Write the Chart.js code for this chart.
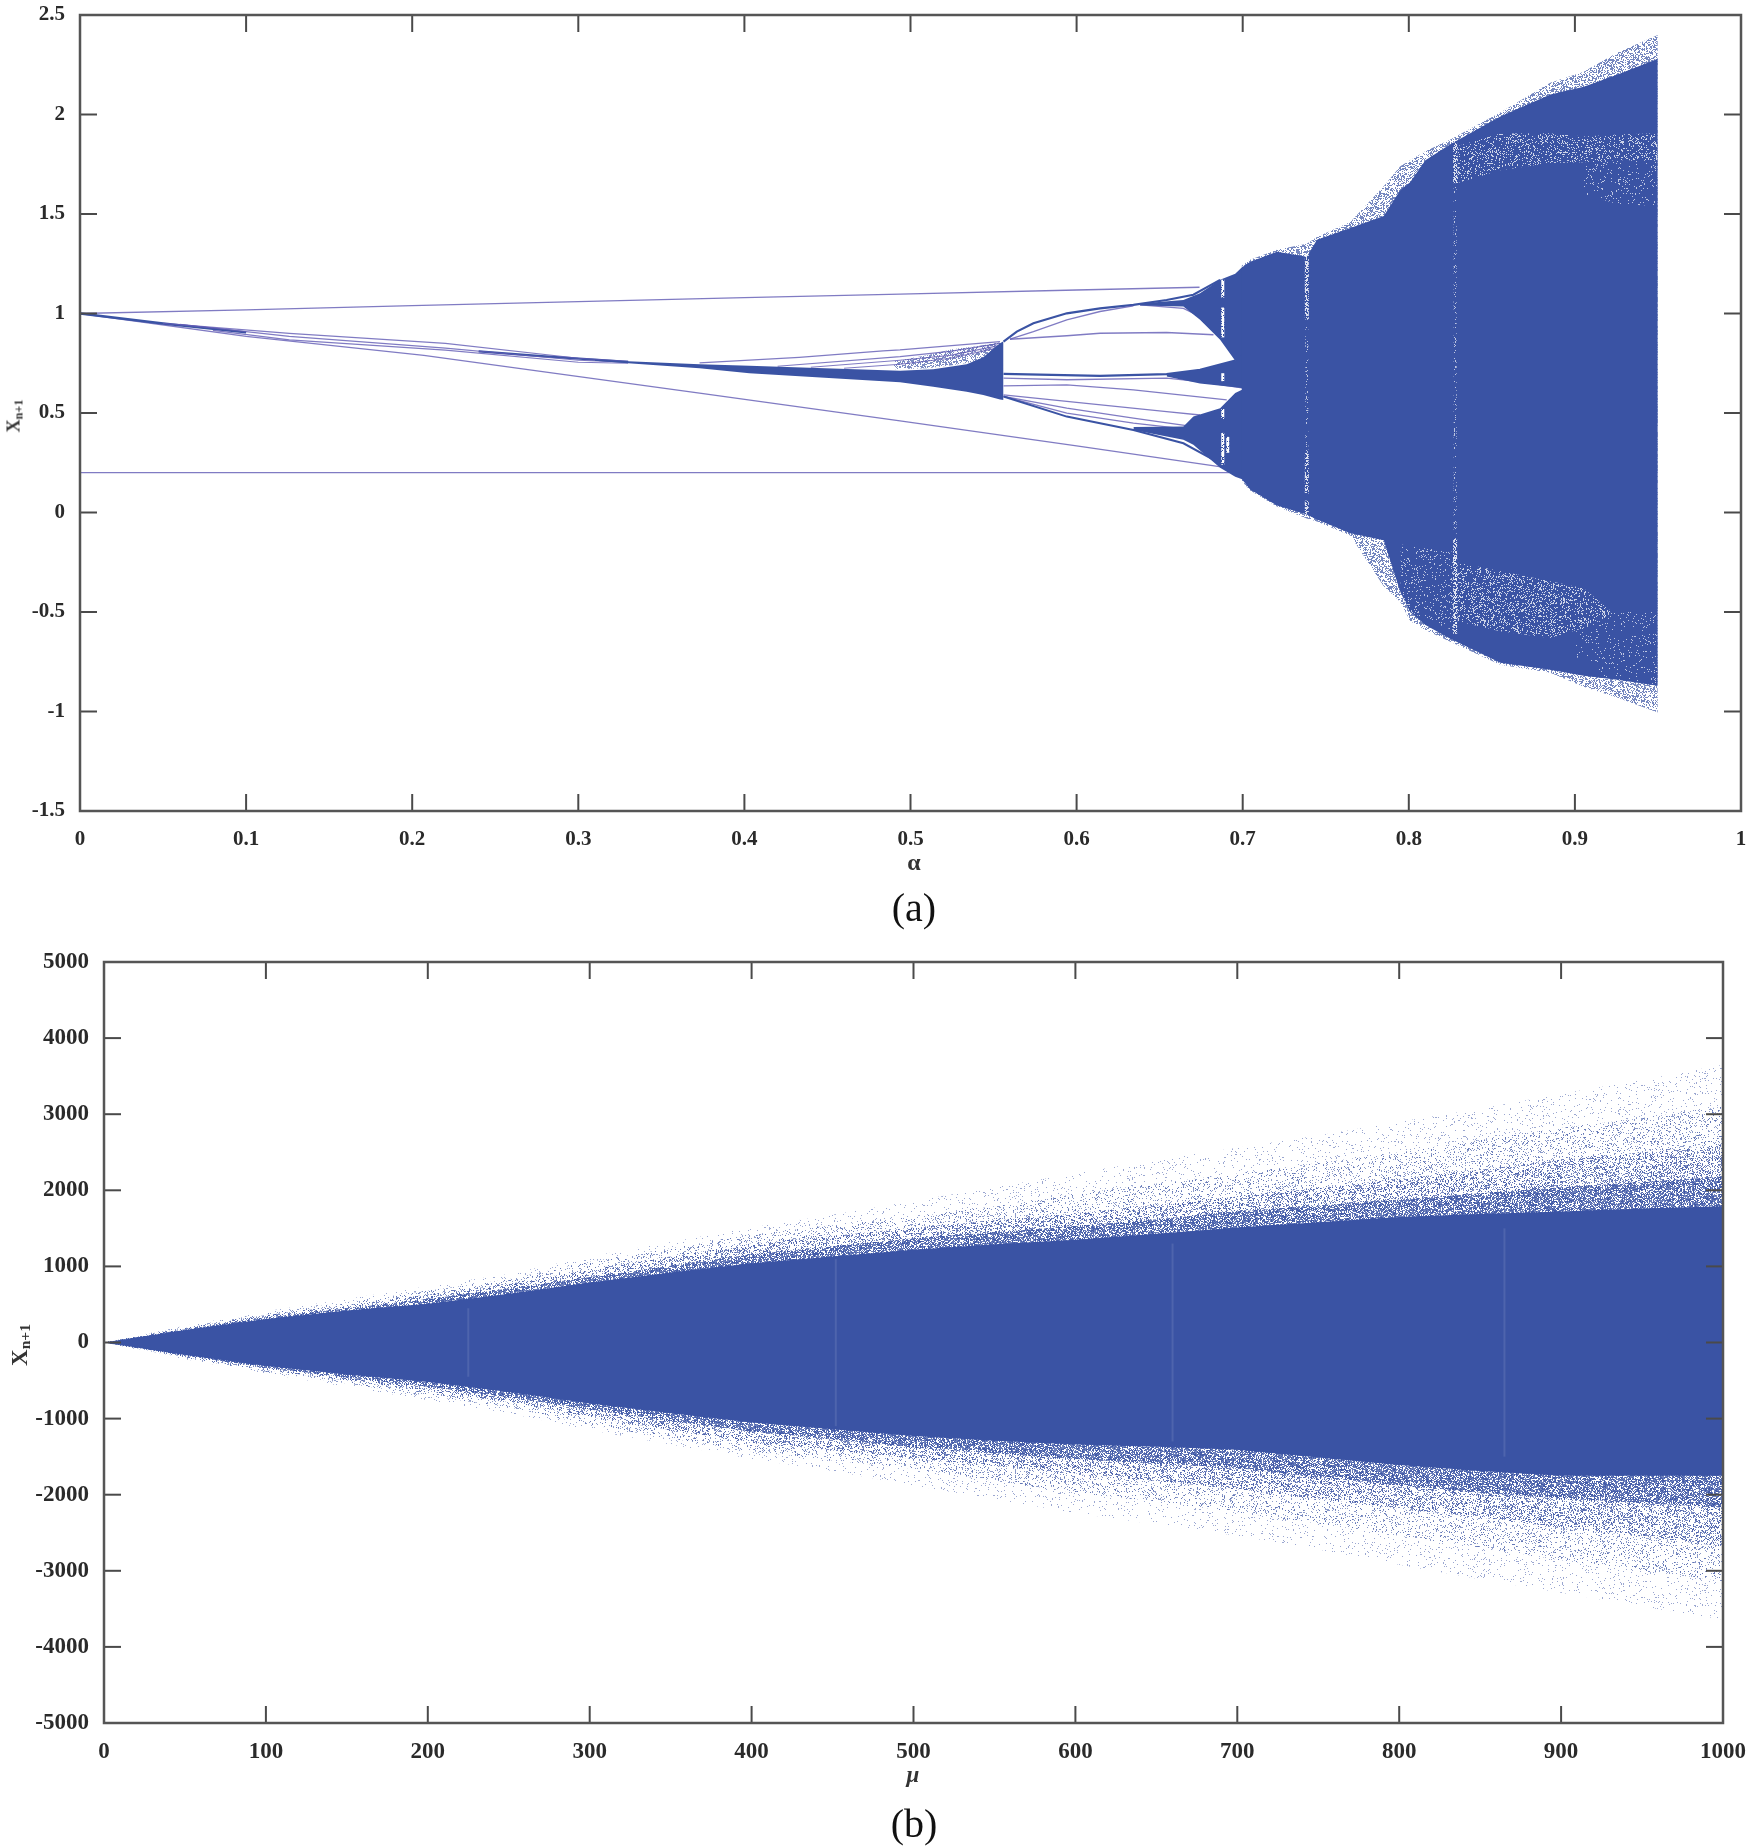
<!DOCTYPE html>
<html>
<head>
<meta charset="utf-8">
<title>Bifurcation diagrams</title>
<script src="https://cdn.jsdelivr.net/npm/chart.js@4/dist/chart.umd.min.js"></script>
<style>
  html, body { margin: 0; padding: 0; background: #fff; }
  #page { position: relative; width: 1750px; height: 1848px; overflow: hidden; font-family: "Liberation Serif", serif; color: #222; }
  canvas { position: absolute; left: 0; }
  .txt { position: absolute; transform: translate(-50%, -50%); white-space: nowrap; }
  .bold { font-weight: bold; color: #333; }
  .rot { transform: translate(-50%, -50%) rotate(-90deg); }
  sub { font-size: 68%; line-height: 0; vertical-align: -0.22em; }
</style>
</head>
<body>
<div id="page">
  <canvas id="chartA" width="1750" height="880" style="top:0"></canvas>
  <canvas id="chartB" width="1750" height="850" style="top:930px"></canvas>
  <div class="txt bold rot" style="left:14px;top:416px;font-size:18px">X<sub>n+1</sub></div>
  <div class="txt bold" style="left:914px;top:862px;font-size:24px">&alpha;</div>
  <div class="txt" style="left:914px;top:907px;font-size:40px;color:#111">(a)</div>
  <div class="txt bold rot" style="left:20px;top:1345px;font-size:23px">X<sub>n+1</sub></div>
  <div class="txt bold" style="left:913px;top:1775px;font-size:23px;font-style:italic">&mu;</div>
  <div class="txt" style="left:914px;top:1823px;font-size:40px;color:#111">(b)</div>
</div>
<script>
// ---- panel (a), values ----
var aTicksX = [0, 0.1, 0.2, 0.3, 0.4, 0.5, 0.6, 0.7, 0.8, 0.9, 1];
var aTicksY = [-1.5, -1, -0.5, 0, 0.5, 1, 1.5, 2, 2.5];

// single thin branches
var topLineX = [0, 0.1, 0.2, 0.3, 0.4, 0.4937, 0.6, 0.674];
var topLineY = [1, 1.018, 1.04, 1.06, 1.08, 1.097, 1.118, 1.132];
var flatLineX = [0, 0.692];
var flatLineY = [0.2, 0.2];
var diagLineX = [0, 0.1, 0.207, 0.373, 0.4937, 0.6, 0.686, 0.695];
var diagLineY = [1, 0.885, 0.79, 0.6, 0.46, 0.335, 0.23, 0.215];

// the bundle left of the big wedge
var trunkX = [0, 0.05, 0.1];
var trunkY = [1, 0.95, 0.905];
var trunk2X = [0.24, 0.28, 0.33];
var trunk2Y = [0.81, 0.785, 0.757];
var split1X = [0.05, 0.126, 0.22, 0.3, 0.33];
var split1Y = [0.95, 0.9, 0.85, 0.775, 0.76];
var split2X = [0.06, 0.126, 0.22, 0.3, 0.33];
var split2Y = [0.945, 0.885, 0.826, 0.765, 0.755];
var split3X = [0.08, 0.126, 0.22, 0.3, 0.33];
var split3Y = [0.915, 0.867, 0.816, 0.755, 0.75];
var fan1X = [0.373, 0.433, 0.4835, 0.4937, 0.5539];
var fan1Y = [0.752, 0.78, 0.812, 0.817, 0.859];
var fan2X = [0.42, 0.4937, 0.5238, 0.5539];
var fan2Y = [0.735, 0.783, 0.81, 0.85];
var fan3X = [0.44, 0.4937, 0.5238, 0.5539];
var fan3Y = [0.73, 0.765, 0.79, 0.84];
var fan4X = [0.46, 0.4937, 0.5238, 0.5539];
var fan4Y = [0.725, 0.745, 0.775, 0.83];
var wedgeX = [0.31, 0.33, 0.373, 0.403, 0.4937, 0.5137, 0.5338, 0.5438, 0.5539, 0.556];
var wedgeTop = [0.768, 0.76, 0.745, 0.738, 0.712, 0.72, 0.745, 0.78, 0.85, 0.86];
var wedgeBot = [0.762, 0.75, 0.725, 0.7, 0.655, 0.632, 0.607, 0.59, 0.568, 0.565];
var moireX = [0.49, 0.51, 0.525, 0.54, 0.5539];
var moireTop = [0.76, 0.79, 0.82, 0.835, 0.855];
var moireBot = [0.72, 0.725, 0.74, 0.76, 0.78];

// branches between the wedge and the chaotic part
var arcMainX = [0.556, 0.564, 0.574, 0.5941, 0.6141, 0.6342, 0.6542, 0.6703, 0.6864];
var arcMainY = [0.859, 0.909, 0.951, 1.001, 1.026, 1.043, 1.068, 1.094, 1.169];
var arcInnerX = [0.5599, 0.574, 0.5941, 0.6141, 0.6342];
var arcInnerY = [0.871, 0.909, 0.968, 1.01, 1.038];
var flatUpX = [0.5599, 0.5941, 0.6141, 0.6542, 0.6824];
var flatUpY = [0.871, 0.888, 0.901, 0.904, 0.893];
var arcFallX = [0.6382, 0.6643, 0.6743];
var arcFallY = [1.043, 1.026, 0.985];
var mid1X = [0.556, 0.6141, 0.6542, 0.6743, 0.6955];
var mid1Y = [0.697, 0.687, 0.695, 0.717, 0.763];
var mid2X = [0.556, 0.5941, 0.6542, 0.6743, 0.7005];
var mid2Y = [0.675, 0.667, 0.675, 0.658, 0.625];
var mid3X = [0.556, 0.5941, 0.6342, 0.6904];
var mid3Y = [0.636, 0.641, 0.616, 0.566];
var low1X = [0.556, 0.5941, 0.6542, 0.6743];
var low1Y = [0.591, 0.558, 0.507, 0.49];
var low2X = [0.556, 0.5941, 0.6342, 0.6703];
var low2Y = [0.583, 0.524, 0.474, 0.432];
var low3X = [0.556, 0.5941, 0.6342, 0.6703];
var low3Y = [0.583, 0.499, 0.449, 0.415];
var low4X = [0.556, 0.5941, 0.6342, 0.6643, 0.69];
var low4Y = [0.583, 0.482, 0.415, 0.348, 0.231];

// the three wedges just before the cloud
var upWedgeX = [0.6382, 0.6643, 0.6743, 0.6864, 0.6955, 0.7005];
var upWedgeTop = [1.05, 1.068, 1.102, 1.169, 1.2, 1.24];
var upWedgeBot = [1.04, 1.035, 0.968, 0.868, 0.763, 0.63];
var midWedgeX = [0.6542, 0.6743, 0.6955, 0.7005];
var midWedgeTop = [0.695, 0.717, 0.763, 0.8];
var midWedgeBot = [0.683, 0.648, 0.63, 0.625];
var lowWedgeX = [0.6342, 0.6643, 0.6703, 0.6864, 0.6955, 0.7005];
var lowWedgeTop = [0.43, 0.432, 0.482, 0.524, 0.6, 0.62];
var lowWedgeBot = [0.415, 0.365, 0.34, 0.225, 0.18, 0.165];

// dense cloud on the right, solid part and grainy rim
var cloudX = [0.6993, 0.7045, 0.7206, 0.7386, 0.7447, 0.7648, 0.7849, 0.7949, 0.8008, 0.81, 0.825, 0.8551, 0.8852, 0.9053, 0.9254, 0.9499];
var cloudTop = [1.23, 1.26, 1.31, 1.285, 1.37, 1.43, 1.49, 1.62, 1.66, 1.77, 1.85, 1.99, 2.1, 2.14, 2.2, 2.28];
var rimTop = [1.24, 1.27, 1.32, 1.35, 1.385, 1.46, 1.64, 1.74, 1.77, 1.815, 1.875, 2.01, 2.16, 2.215, 2.31, 2.4];
var cloudBot = [0.17, 0.116, 0.035, -0.01, -0.035, -0.104, -0.14, -0.4, -0.5, -0.565, -0.635, -0.755, -0.79, -0.82, -0.84, -0.87];
var rimBot = [0.16, 0.11, 0.03, -0.03, -0.045, -0.115, -0.37, -0.45, -0.545, -0.59, -0.65, -0.765, -0.805, -0.875, -0.93, -1.005];

// paler patches inside the cloud
var paleLowX = [0.8289, 0.855, 0.8851, 0.9052, 0.9213];
var paleLowTop = [-0.251, -0.294, -0.346, -0.381, -0.493];
var paleLowBot = [-0.545, -0.597, -0.631, -0.58, -0.51];
var paleLeftX = [0.795, 0.8, 0.8289];
var paleLeftTop = [-0.16, -0.17, -0.2];
var paleLeftBot = [-0.42, -0.5, -0.6];
var paleEdgeX = [0.9, 0.9213, 0.9499];
var paleEdgeTop = [-0.6, -0.5, -0.5];
var paleEdgeBot = [-0.72, -0.85, -0.9];
var paleHighX = [0.8289, 0.855, 0.885, 0.9053, 0.9254, 0.9499];
var paleHighTop = [1.84, 1.905, 1.906, 1.889, 1.9, 1.906];
var paleHighBot = [1.655, 1.72, 1.756, 1.76, 1.77, 1.77];
var paleSideX = [0.905, 0.9254, 0.9499];
var paleSideTop = [1.77, 1.77, 1.77];
var paleSideBot = [1.6, 1.55, 1.54];

// pale vertical windows: [alpha, from, to]
var aWindowsBright = [[0.7386, 0.97, 1.3], [0.7386, 0.095, 0.3], [0.7386, -0.01, 0.06], [0.8279, 1.655, 1.86], [0.8279, -0.61, -0.13]];
var aWindowsFaint = [[0.8279, -0.13, 1.655], [0.7386, 0.3, 0.97]];
// white gaps at the start of the chaos: [alpha, from, to]
var aGaps = [
  [0.688, 1.08, 1.17], [0.688, 0.88, 1.03], [0.688, 0.66, 0.7],
  [0.688, 0.47, 0.52], [0.688, 0.24, 0.4], [0.691, 0.3, 0.38]
];

// ---- panel (b), values ----
var bTicksX = [0, 100, 200, 300, 400, 500, 600, 700, 800, 900, 1000];
var bTicksY = [-5000, -4000, -3000, -2000, -1000, 0, 1000, 2000, 3000, 4000, 5000];
var mu = [0, 50, 100, 150, 200, 250, 300, 350, 400, 450, 500, 550, 600, 650, 700, 750, 800, 850, 900, 950, 1000];
var coreTop   = [0, 165, 310, 420, 510, 640, 790, 920, 1040, 1130, 1220, 1290, 1350, 1430, 1510, 1580, 1650, 1690, 1720, 1760, 1790];
var denseTop  = [0, 175, 330, 450, 570, 710, 860, 1010, 1160, 1260, 1370, 1450, 1530, 1620, 1720, 1800, 1880, 1960, 2040, 2110, 2180];
var midTop    = [0, 190, 360, 490, 630, 770, 960, 1130, 1300, 1400, 1510, 1600, 1700, 1810, 1920, 2030, 2150, 2270, 2400, 2500, 2600];
var sparseTop = [0, 205, 385, 530, 680, 830, 1060, 1240, 1420, 1540, 1650, 1790, 1950, 2090, 2220, 2360, 2500, 2660, 2820, 2950, 3100];
var faintTop  = [0, 220, 410, 570, 740, 900, 1130, 1320, 1510, 1680, 1860, 2040, 2220, 2400, 2560, 2720, 2900, 3070, 3270, 3450, 3650];
var coreBot   = [0, -165, -310, -420, -520, -650, -800, -930, -1050, -1140, -1230, -1290, -1340, -1370, -1410, -1510, -1610, -1690, -1750, -1750, -1750];
var denseBot  = [0, -175, -330, -460, -580, -720, -880, -1030, -1170, -1270, -1380, -1460, -1530, -1590, -1650, -1770, -1880, -1970, -2050, -2110, -2170];
var midBot    = [0, -190, -360, -500, -640, -780, -980, -1150, -1310, -1420, -1530, -1620, -1720, -1820, -1930, -2050, -2180, -2300, -2430, -2550, -2680];
var sparseBot = [0, -205, -385, -540, -700, -850, -1080, -1260, -1430, -1550, -1660, -1820, -1970, -2090, -2230, -2380, -2540, -2690, -2860, -3000, -3130];
var faintBot  = [0, -220, -410, -580, -760, -930, -1150, -1340, -1530, -1690, -1880, -2060, -2240, -2390, -2540, -2720, -2920, -3110, -3290, -3470, -3640];
// faint vertical streaks: [mu, from, to]
var bStreaks = [[452, -1100, 1100], [660, -1300, 1300], [865, -1500, 1500], [225, -450, 450]];

var BLUE = '#3a53a4';
var THIN = 'rgba(96,90,180,0.8)';

// grain texture for the stippled parts, built from a fixed hash of the pixel position.
// it only shades a band, all the band edges come from the arrays above
function stipple(level, rgb, alpha) {
  var size = 256, cv = document.createElement('canvas');
  cv.width = size; cv.height = size;
  var c = cv.getContext('2d'), img = c.createImageData(size, size);
  for (var y = 0; y < size; y++) {
    for (var x = 0; x < size; x++) {
      var h = (Math.imul(x, 73856093) ^ Math.imul(y, 19349663)) >>> 0;
      h = Math.imul(h ^ (h >>> 13), 1274126177);
      h = (h ^ (h >>> 16)) >>> 0;
      var k = (y * size + x) * 4;
      img.data[k] = rgb[0]; img.data[k + 1] = rgb[1]; img.data[k + 2] = rgb[2];
      img.data[k + 3] = h / 4294967296 < level ? alpha : 0;
    }
  }
  c.putImageData(img, 0, 0);
  return c.createPattern(cv, 'repeat');
}
var blueRgb = [58, 83, 164], whiteRgb = [255, 255, 255];

function pts(xs, ys) {
  return xs.map(function(x, i) { return {x: x, y: ys[i]}; });
}

function addLine(list, xs, ys, color, width) {
  list.push({data: pts(xs, ys), borderColor: color, borderWidth: width, fill: false});
}

// a filled band between two edges. the list gets reversed later, so the filled edge goes second
function addBand(list, xs, top, bot, color) {
  list.push({data: pts(xs, bot), borderWidth: 0, borderColor: 'transparent', fill: false});
  list.push({data: pts(xs, top), borderWidth: 0, borderColor: 'transparent', backgroundColor: color, fill: '+1'});
}

function addSegments(list, segs, color, width) {
  segs.forEach(function(s) {
    addLine(list, [s[0], s[0]], [s[1], s[2]], color, width);
  });
}

var aSets = [];
addLine(aSets, topLineX, topLineY, THIN, 1.3);
addLine(aSets, flatLineX, flatLineY, THIN, 1.3);
addLine(aSets, diagLineX, diagLineY, THIN, 1.3);
addLine(aSets, trunkX, trunkY, BLUE, 2.4);
addLine(aSets, trunk2X, trunk2Y, BLUE, 2.2);
addLine(aSets, split1X, split1Y, THIN, 1.2);
addLine(aSets, split2X, split2Y, THIN, 1.2);
addLine(aSets, split3X, split3Y, THIN, 1.2);
addBand(aSets, moireX, moireTop, moireBot, stipple(0.45, blueRgb, 170));
addLine(aSets, fan1X, fan1Y, THIN, 1.2);
addLine(aSets, fan2X, fan2Y, THIN, 1.2);
addLine(aSets, fan3X, fan3Y, THIN, 1.2);
addLine(aSets, fan4X, fan4Y, THIN, 1.2);
addBand(aSets, wedgeX, wedgeTop, wedgeBot, BLUE);
addLine(aSets, arcMainX, arcMainY, BLUE, 2.2);
addLine(aSets, arcInnerX, arcInnerY, THIN, 1.3);
addLine(aSets, flatUpX, flatUpY, THIN, 1.5);
addLine(aSets, arcFallX, arcFallY, THIN, 1.3);
addLine(aSets, mid1X, mid1Y, BLUE, 2.2);
addLine(aSets, mid2X, mid2Y, THIN, 1.3);
addLine(aSets, mid3X, mid3Y, THIN, 1.3);
addLine(aSets, low1X, low1Y, THIN, 1.3);
addLine(aSets, low2X, low2Y, THIN, 1.3);
addLine(aSets, low3X, low3Y, THIN, 1.3);
addLine(aSets, low4X, low4Y, BLUE, 2);
addBand(aSets, upWedgeX, upWedgeTop, upWedgeBot, BLUE);
addBand(aSets, midWedgeX, midWedgeTop, midWedgeBot, BLUE);
addBand(aSets, lowWedgeX, lowWedgeTop, lowWedgeBot, BLUE);
addBand(aSets, cloudX, rimTop, rimBot, stipple(0.45, blueRgb, 180));
addBand(aSets, cloudX, cloudTop, cloudBot, BLUE);
addBand(aSets, paleLowX, paleLowTop, paleLowBot, stipple(0.2, whiteRgb, 190));
addBand(aSets, paleLeftX, paleLeftTop, paleLeftBot, stipple(0.1, whiteRgb, 170));
addBand(aSets, paleEdgeX, paleEdgeTop, paleEdgeBot, stipple(0.05, whiteRgb, 170));
addBand(aSets, paleHighX, paleHighTop, paleHighBot, stipple(0.18, whiteRgb, 190));
addBand(aSets, paleSideX, paleSideTop, paleSideBot, stipple(0.07, whiteRgb, 170));
addSegments(aSets, aWindowsBright, stipple(0.5, whiteRgb, 210), 4);
addSegments(aSets, aWindowsFaint, stipple(0.12, whiteRgb, 170), 3);
addSegments(aSets, aGaps, stipple(0.8, whiteRgb, 255), 3);

var bSets = [];
addBand(bSets, mu, faintTop, faintBot, stipple(0.05, blueRgb, 130));
addBand(bSets, mu, sparseTop, sparseBot, stipple(0.15, blueRgb, 150));
addBand(bSets, mu, midTop, midBot, stipple(0.35, blueRgb, 170));
addBand(bSets, mu, denseTop, denseBot, stipple(0.7, blueRgb, 190));
addBand(bSets, mu, coreTop, coreBot, BLUE);
addSegments(bSets, bStreaks, 'rgba(255,255,255,0.1)', 2);

// frame and inward ticks on all four sides, placed through the scales
var framePlugin = {
  id: 'frame',
  afterDatasetsDraw: function(chart, args, opts) {
    var c = chart.ctx, a = chart.chartArea, sx = chart.scales.x, sy = chart.scales.y;
    c.save();
    c.strokeStyle = '#4a4a4a';
    c.lineWidth = 2;
    sx.ticks.forEach(function(t) {
      var p = sx.getPixelForValue(t.value);
      c.beginPath(); c.moveTo(p, a.bottom); c.lineTo(p, a.bottom - opts.len); c.stroke();
      c.beginPath(); c.moveTo(p, a.top); c.lineTo(p, a.top + opts.len); c.stroke();
    });
    sy.ticks.forEach(function(t) {
      var p = sy.getPixelForValue(t.value);
      c.beginPath(); c.moveTo(a.left, p); c.lineTo(a.left + opts.len, p); c.stroke();
      c.beginPath(); c.moveTo(a.right, p); c.lineTo(a.right - opts.len, p); c.stroke();
    });
    c.strokeStyle = '#555';
    c.lineWidth = 2.5;
    c.strokeRect(a.left, a.top, a.right - a.left, a.bottom - a.top);
    c.restore();
  }
};

function makeChart(id, sets, xMin, xMax, yMin, yMax, xTicks, yTicks, box) {
  var font = {family: '"Liberation Serif", serif', weight: 'bold', size: box.font};
  return new Chart(document.getElementById(id), {
    type: 'line',
    data: {datasets: sets.slice().reverse()},
    plugins: [framePlugin],
    options: {
      responsive: false,
      animation: false,
      events: [],
      layout: {padding: {left: 0, top: box.top, right: box.right, bottom: 0}},
      elements: {point: {radius: 0}, line: {tension: 0, borderCapStyle: 'butt'}},
      plugins: {legend: {display: false}, tooltip: {enabled: false}, frame: {len: 17}},
      scales: {
        x: {
          type: 'linear', min: xMin, max: xMax,
          grid: {display: false}, border: {display: false},
          afterBuildTicks: function(s) { s.ticks = xTicks.map(function(v) { return {value: v}; }); },
          afterFit: function(s) { s.height = box.xHeight; s.paddingLeft = 0; s.paddingRight = 0; },
          ticks: {color: '#2a2a2a', font: font, padding: box.xPad, maxRotation: 0, autoSkip: false,
            callback: function(v) { return String(v); }}
        },
        y: {
          type: 'linear', min: yMin, max: yMax,
          grid: {display: false}, border: {display: false},
          afterBuildTicks: function(s) { s.ticks = yTicks.map(function(v) { return {value: v}; }); },
          afterFit: function(s) { s.width = box.left; s.paddingTop = 0; s.paddingBottom = 0; },
          ticks: {color: '#2a2a2a', font: font, padding: box.yPad, autoSkip: false,
            callback: function(v) { return String(v); }}
        }
      }
    }
  });
}

makeChart('chartA', aSets, 0, 1, -1.5, 2.5, aTicksX, aTicksY,
  {left: 80, top: 15, right: 9, xHeight: 69, font: 21, xPad: 8, yPad: 7});
makeChart('chartB', bSets, 0, 1000, -5000, 5000, bTicksX, bTicksY,
  {left: 104, top: 32, right: 27, xHeight: 57, font: 23, xPad: 7, yPad: 7});
</script>
</body>
</html>
